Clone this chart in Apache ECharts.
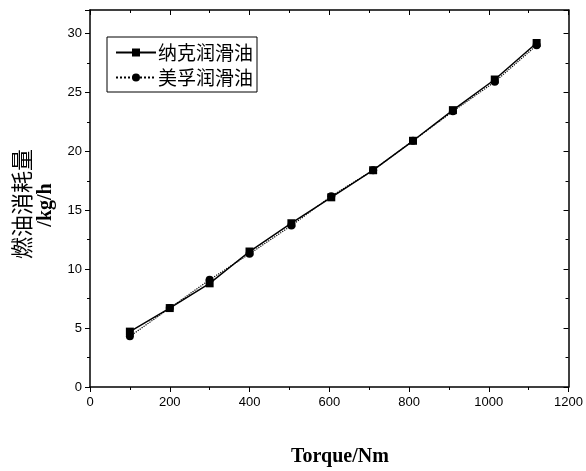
<!DOCTYPE html>
<html>
<head>
<meta charset="utf-8">
<script src="https://cdn.jsdelivr.net/npm/echarts@6/dist/echarts.min.js"></script>
<style>
  html, body { margin: 0; padding: 0; background: #fff; }
  #chart { width: 586px; height: 471px; }
</style>
</head>
<body>
<div id="chart"></div>
<script>
// Fuel consumption versus torque for two lubricating oils
const torque = [100, 200, 300, 400, 505, 605, 710, 810, 910, 1015, 1120];
const nakeOil = [4.7, 6.7, 8.8, 11.5, 13.9, 16.1, 18.4, 20.9, 23.5, 26.1, 29.2];
const mobilOil = [4.3, 6.7, 9.1, 11.3, 13.7, 16.2, 18.4, 20.9, 23.4, 25.9, 29.0];
const seriesNames = ['纳克润滑油', '美孚润滑油'];
const xTitle = 'Torque/Nm';
const yTitleLines = ['燃油消耗量', '/kg/h'];

const pairs = (xs, ys) => xs.map((x, i) => [x, ys[i]]);
const plain = v => String(v);

const tickFont = { fontFamily: 'Liberation Sans', fontSize: 13, color: '#000' };
const axisLine = { show: true, onZero: false, lineStyle: { color: '#000', width: 1.5 } };

const chart = echarts.init(document.getElementById('chart'), null, { renderer: 'canvas' });
chart.setOption({
  animation: false,
  backgroundColor: '#fff',
  grid: { left: 90, right: 15, top: 10, bottom: 84, containLabel: false },
  xAxis: [
    {
      type: 'value', min: 0, max: 1200, interval: 200, position: 'bottom',
      axisLine: axisLine,
      axisTick: { show: true, inside: false, length: 5, lineStyle: { color: '#000', width: 1 } },
      minorTick: { show: true, splitNumber: 2, length: 3, lineStyle: { color: '#000' } },
      axisLabel: Object.assign({ margin: 9, formatter: plain }, tickFont),
      splitLine: { show: false }
    },
    {
      type: 'value', min: 0, max: 1200, interval: 200, position: 'top',
      axisLine: axisLine,
      axisTick: { show: true, inside: true, length: 5, lineStyle: { color: '#000' } },
      minorTick: { show: true, splitNumber: 2, length: 3, lineStyle: { color: '#000' } },
      axisLabel: { show: false },
      splitLine: { show: false }
    }
  ],
  yAxis: [
    {
      type: 'value', min: 0, max: 32, interval: 5, position: 'left',
      axisLine: axisLine,
      axisTick: { show: true, inside: false, length: 5, lineStyle: { color: '#000' } },
      minorTick: { show: true, splitNumber: 2, length: 3, lineStyle: { color: '#000' } },
      axisLabel: Object.assign({ margin: 8, showMaxLabel: false, formatter: plain }, tickFont),
      splitLine: { show: false }
    },
    {
      type: 'value', min: 0, max: 32, interval: 5, position: 'right',
      axisLine: axisLine,
      axisTick: { show: true, inside: true, length: 5, lineStyle: { color: '#000' } },
      minorTick: { show: true, splitNumber: 2, length: 3, lineStyle: { color: '#000' } },
      axisLabel: { show: false },
      splitLine: { show: false }
    }
  ],
  legend: {
    left: 107, top: 37,
    orient: 'vertical',
    itemWidth: 40, itemHeight: 10, itemGap: 6,
    padding: [6, 4, 5, 8],
    borderColor: '#000', borderWidth: 1,
    textStyle: { fontFamily: 'Noto Sans CJK SC', fontSize: 19, color: '#000', padding: [0, 0, 0, -3] },
    data: seriesNames
  },
  graphic: [
    {
      type: 'text', x: 340, y: 457, z: 10,
      style: { text: xTitle, font: 'bold 20px "Liberation Serif"', fill: '#000', align: 'center', verticalAlign: 'middle' }
    },
    {
      type: 'text', x: 22, y: 204, rotation: Math.PI / 2, z: 10,
      style: { text: yTitleLines[0], font: '22px "Noto Sans CJK SC"', fill: '#000', align: 'center', verticalAlign: 'middle' }
    },
    {
      type: 'text', x: 46, y: 205, rotation: Math.PI / 2, z: 10,
      style: { text: yTitleLines[1], font: 'bold 20px "Liberation Serif"', fill: '#000', align: 'center', verticalAlign: 'middle' }
    }
  ],
  series: [
    {
      name: seriesNames[1], type: 'line', data: pairs(torque, mobilOil),
      symbol: 'circle', symbolSize: 8,
      lineStyle: { color: '#000', width: 1.2, type: 'dotted' },
      itemStyle: { color: '#000' }
    },
    {
      name: seriesNames[0], type: 'line', data: pairs(torque, nakeOil),
      symbol: 'rect', symbolSize: 8,
      lineStyle: { color: '#000', width: 1.5, type: 'solid' },
      itemStyle: { color: '#000' }
    }
  ]
});
</script>
</body>
</html>
